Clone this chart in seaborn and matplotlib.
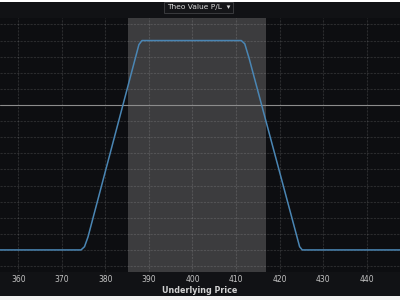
import matplotlib
matplotlib.use("Agg")
import matplotlib.pyplot as plt
import seaborn as sns
import pandas as pd
from matplotlib.patches import Rectangle

# ---- data ----
price = [350, 374.4, 375.2, 376.0, 387.7, 388.4, 411.2, 412.0, 413.0, 424.6, 425.2, 455]
theo_pl = [-9, -9, -8.8, -8.2, 3.75, 4, 4, 3.8, 2.9, -8.8, -9, -9]
x_ticks = [360, 370, 380, 390, 400, 410, 420, 430, 440]
y_grid = [-10, -9, -8, -7, -6, -5, -4, -3, -2, -1, 1, 2, 3, 4, 5]
shade_range = [385.2, 416.8]
x_limits = [355.8, 447.65]
y_limits = [-10.37, 5.4]
title_text = "Theo Value P/L  \u25BE"
x_label = "Underlying Price"

df = pd.DataFrame({"price": price, "pl": theo_pl})

sns.set_style("dark")
plt.rcParams["font.family"] = ["DejaVu Sans"]

fig = plt.figure(figsize=(4, 3), dpi=100, facecolor="#111215")
ax = fig.add_axes([0, 28 / 300, 1, 254 / 300])
ax.set_facecolor("#0d0e11")

ax.axvspan(shade_range[0], shade_range[1], color="#3c3c3e", zorder=0.5, lw=0)

for xv in x_ticks:
    ax.axvline(xv, color="white", alpha=0.12, lw=0.8, ls=(0, (2, 1)), zorder=1)
for yv in y_grid:
    ax.axhline(yv, color="white", alpha=0.12, lw=0.8, ls=(0, (2, 1)), zorder=1)
ax.axhline(0, color="#8c8c8c", lw=0.8, zorder=1.5)

sns.lineplot(data=df, x="price", y="pl", ax=ax, color="#4a86b4", lw=1.1, zorder=3)

ax.set_xlim(*x_limits)
ax.set_ylim(*y_limits)
ax.set_xticks(x_ticks)
ax.set_xticklabels([str(v) for v in x_ticks])
ax.set_yticks([])
ax.set_ylabel("")
ax.tick_params(axis="x", length=0, pad=2.5, labelsize=5.5, labelcolor="#c4c4c4")
ax.set_xlabel(x_label, fontsize=5.8, fontweight="bold", color="#d2d2d2", labelpad=1)
ax.grid(False)
for s in ax.spines.values():
    s.set_visible(False)

fig.text(198.5 / 400, 1 - 7.5 / 300, title_text, ha="center", va="center",
         fontsize=5.4, color="#dadada",
         bbox=dict(boxstyle="square,pad=0.35", facecolor="#141518", edgecolor="#3a3b3e", lw=0.7))

# white strips at top and bottom of the screenshot
fig.patches.append(Rectangle((0, 1 - 2 / 300), 1, 2 / 300, transform=fig.transFigure,
                             facecolor="white", edgecolor="none", zorder=10))
fig.patches.append(Rectangle((0, 0), 1, 4 / 300, transform=fig.transFigure,
                             facecolor="#f2f2f2", edgecolor="none", zorder=10))

fig.savefig("out.png", dpi=100, facecolor=fig.get_facecolor())
